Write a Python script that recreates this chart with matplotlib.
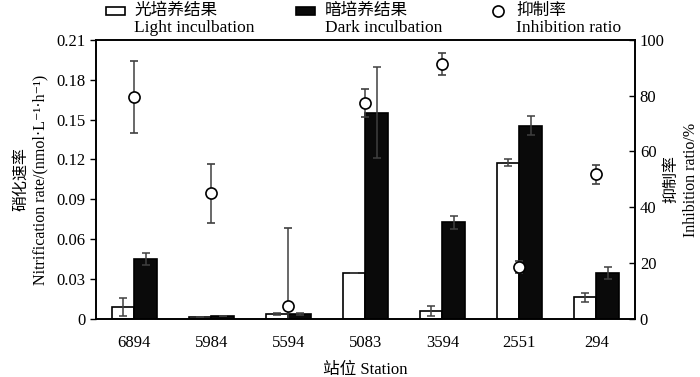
import matplotlib
matplotlib.use('Agg')
import matplotlib.pyplot as plt
import numpy as np
from matplotlib.patches import Rectangle
from matplotlib.lines import Line2D

plt.rcParams['font.family'] = ['Liberation Serif', 'Noto Sans CJK SC', 'DejaVu Sans']

stations = ['6894', '5984', '5594', '5083', '3594', '2551', '294']
light = [0.0093, 0.0015, 0.0040, 0.0349, 0.0063, 0.1177, 0.0166]
light_err = [0.0068, 0.0, 0.0010, 0.0, 0.0035, 0.0028, 0.0033]
dark = [0.0450, 0.0028, 0.0043, 0.1550, 0.0728, 0.1453, 0.0351]
dark_err = [0.0045, 0.0, 0.0008, 0.0342, 0.0049, 0.0073, 0.0045]
inhib = [79.5, 45.0, 4.8, 77.3, 91.2, 18.8, 51.8]
inhib_err = [12.9, 10.5, 28.0, 5.0, 4.0, 2.2, 3.3]

x = np.arange(len(stations))
w = 0.29
ecol = '#404040'

fig = plt.figure(figsize=(7.0, 3.77), dpi=100)
ax = fig.add_axes([0.137, 0.153, 0.770, 0.742])
ax2 = ax.twinx()

ax.bar(x - w / 2, light, w, color='white', edgecolor='black', linewidth=1.2, zorder=2)
ax.bar(x + w / 2, dark, w, color='#0a0a0a', edgecolor='black', linewidth=1.2, zorder=2)
ax.errorbar(x - w / 2, light, yerr=light_err, fmt='none', ecolor=ecol,
            elinewidth=1.1, capsize=3, capthick=1.1, zorder=3)
ax.errorbar(x + w / 2, dark, yerr=dark_err, fmt='none', ecolor=ecol,
            elinewidth=1.1, capsize=3, capthick=1.1, zorder=3)
ax2.errorbar(x, inhib, yerr=inhib_err, fmt='o', color=ecol, ecolor=ecol,
             elinewidth=1.1, capsize=3, capthick=1.1, markersize=8,
             markerfacecolor='white', markeredgecolor='black', markeredgewidth=1.2)

ax.set_xlim(-0.5, len(stations) - 0.5)
ax.set_ylim(0, 0.21)
ax.set_yticks(np.arange(0, 0.211, 0.03))
ax.set_yticklabels(['0'] + ['%.2f' % v for v in np.arange(0.03, 0.211, 0.03)], fontsize=12)
ax.set_xticks(x)
ax.set_xticklabels(stations, fontsize=12)
ax.tick_params(axis='x', length=0, pad=11)
ax.tick_params(axis='y', direction='out', length=4, width=1)
ax2.set_ylim(0, 100)
ax2.set_yticks(range(0, 101, 20))
ax2.tick_params(axis='y', direction='in', length=4, width=1, labelsize=12)
for a in (ax, ax2):
    for s in a.spines.values():
        s.set_linewidth(1.2)

ax.set_ylabel('硝化速率\nNitrification rate/(nmol·L⁻¹·h⁻¹)', fontsize=11.5,
              linespacing=1.3)
ax.yaxis.set_label_coords(-0.088, 0.5)
ax2.set_ylabel('抑制率\nInhibition ratio/%', fontsize=11.5, linespacing=1.3)
ax2.yaxis.set_label_coords(1.052, 0.5)
ax.set_xlabel('站位 Station', fontsize=12, labelpad=8)

# legend drawn above the axes
fig.patches.append(Rectangle((106 / 700, 1 - 15 / 377), 19 / 700, 8 / 377,
                             transform=fig.transFigure, facecolor='white',
                             edgecolor='black', linewidth=1.2))
fig.patches.append(Rectangle((296 / 700, 1 - 15 / 377), 19 / 700, 8 / 377,
                             transform=fig.transFigure, facecolor='#0a0a0a',
                             edgecolor='black', linewidth=1.2))
fig.lines.append(Line2D([498 / 700], [1 - 11 / 377], transform=fig.transFigure,
                        marker='o', markersize=8, markerfacecolor='white',
                        markeredgecolor='black', markeredgewidth=1.2))
for xl, zh, en in [(134, '光培养结果', 'Light inculbation'),
                   (325, '暗培养结果', 'Dark inculbation'),
                   (516, '抑制率', 'Inhibition ratio')]:
    fig.text(xl / 700, 1 - 11 / 377, zh, fontsize=12, va='center', ha='left')
    fig.text(xl / 700, 1 - 28 / 377, en, fontsize=12.5, va='center', ha='left')

fig.savefig('out.png', dpi=100)
